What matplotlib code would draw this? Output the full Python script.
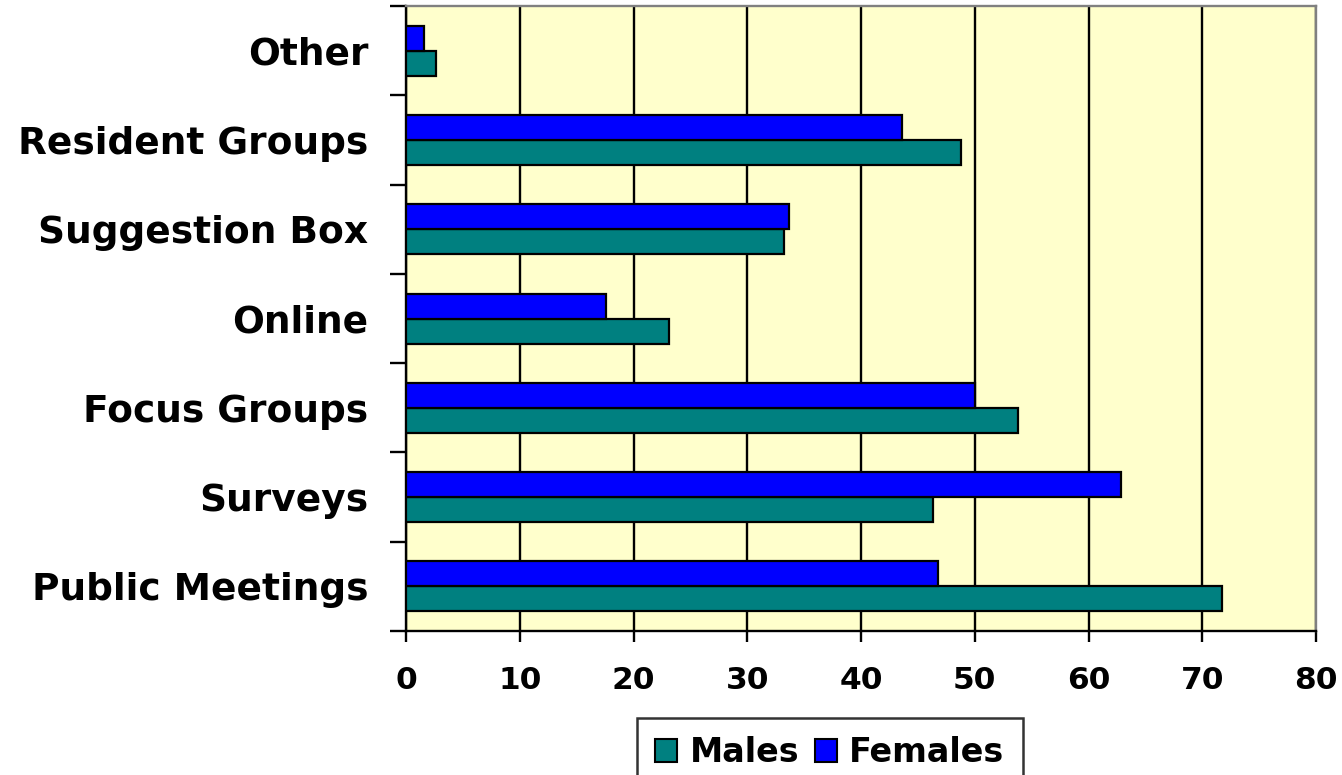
import matplotlib
matplotlib.use("Agg")
import matplotlib.pyplot as plt
import numpy as np
from matplotlib.patches import Patch
from matplotlib.ticker import FixedLocator

categories = ["Public Meetings", "Surveys", "Focus Groups", "Online",
              "Suggestion Box", "Resident Groups", "Other"]
males = [71.7, 46.3, 53.8, 23.1, 33.2, 48.8, 2.6]
females = [46.8, 62.9, 50.0, 17.6, 33.7, 43.6, 1.6]
xticks = [0, 10, 20, 30, 40, 50, 60, 70, 80]

plt.rcParams['font.family'] = ['DejaVu Sans']
plt.rcParams['font.weight'] = 'bold'

fig = plt.figure(figsize=(13.42, 7.75), dpi=100)
ax = fig.add_axes([406/1342, 1-631/775, (1316-406)/1342, (631-6)/775])
ax.set_facecolor('#FFFFCC')

y = np.arange(len(categories))
h = 0.28
ax.barh(y - h/2, males, height=h, color='#008080', edgecolor='black', linewidth=1.6, zorder=3)
ax.barh(y + h/2, females, height=h, color='#0000FF', edgecolor='black', linewidth=1.6, zorder=3)

ax.set_xlim(0, 80)
ax.set_ylim(-0.5, len(categories) - 0.5)
ax.set_xticks(xticks)
ax.set_xticklabels([str(v) for v in xticks], fontsize=22.5, fontweight='bold')
ax.xaxis.grid(True, color='black', linewidth=1.7, zorder=1)
ax.set_axisbelow(True)

ax.set_yticks(y)
ax.set_yticklabels(categories, fontsize=27, fontweight='bold')
ax.tick_params(axis='y', which='major', length=0, pad=27)
ax.yaxis.set_minor_locator(FixedLocator(np.arange(-0.5, len(categories), 1.0)))
ax.tick_params(axis='y', which='minor', length=11.5, width=1.7, direction='out')
ax.tick_params(axis='x', which='major', length=8, width=1.7, direction='out', pad=17)

for s in ['left', 'bottom']:
    ax.spines[s].set_color('black')
    ax.spines[s].set_linewidth(1.7)
for s in ['top', 'right']:
    ax.spines[s].set_color('#808080')
    ax.spines[s].set_linewidth(1.7)

handles = [Patch(facecolor='#008080', edgecolor='black', linewidth=1.5, label='Males'),
           Patch(facecolor='#0000FF', edgecolor='black', linewidth=1.5, label='Females')]
leg = fig.legend(handles=handles, loc='upper left', bbox_to_anchor=(637/1342, 1-718/775),
                 ncol=2, fontsize=24, frameon=True, fancybox=False, shadow=False,
                 handlelength=0.66, handleheight=0.66, handletextpad=0.38, columnspacing=0.45,
                 borderpad=0.55, borderaxespad=0)
leg.get_frame().set_edgecolor('black')
leg.get_frame().set_linewidth(1.8)
for t in leg.get_texts():
    t.set_fontweight('bold')

fig.savefig('out.png', dpi=100)
